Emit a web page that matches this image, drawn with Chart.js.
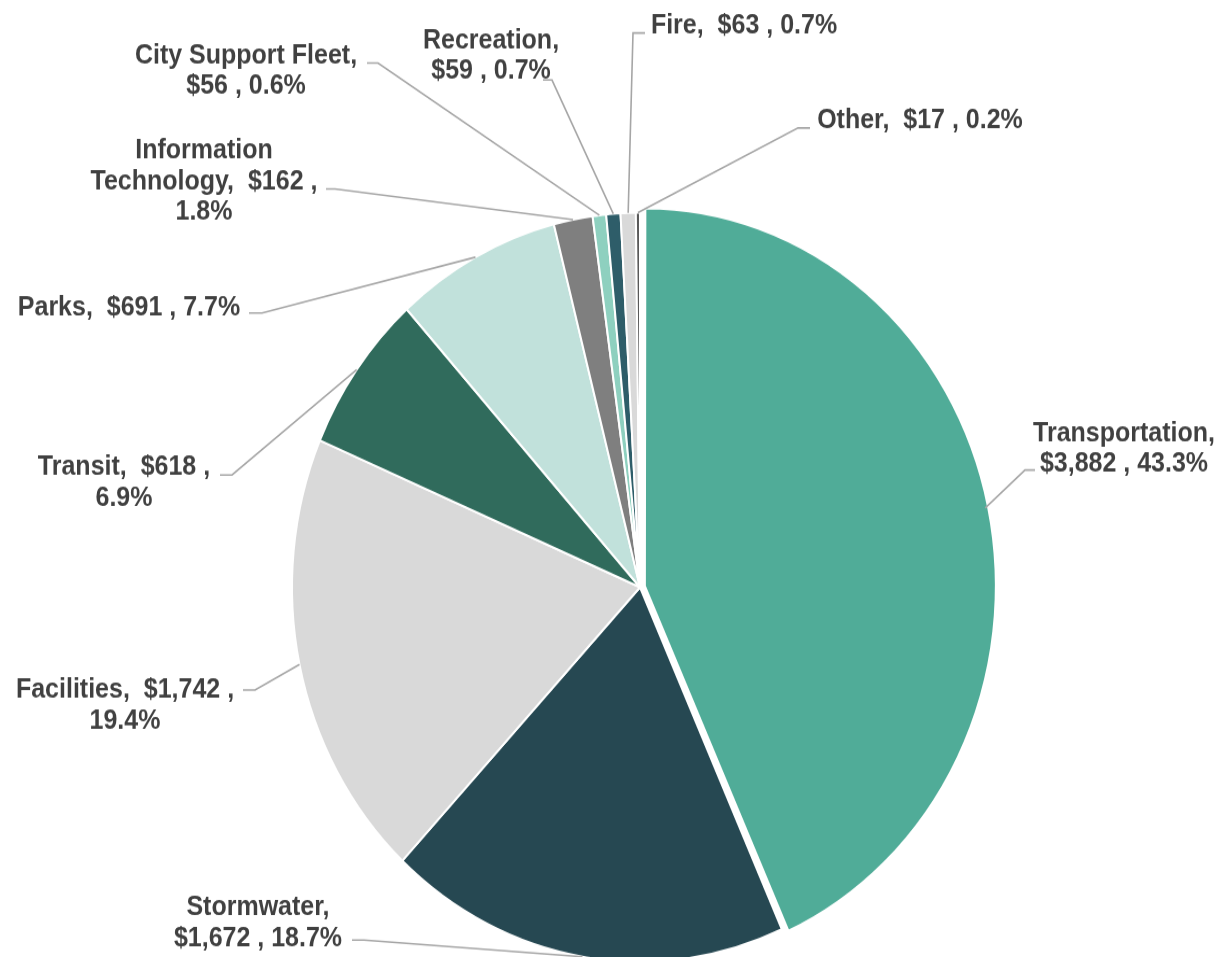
<!DOCTYPE html>
<html>
<head>
<meta charset="utf-8">
<script src="https://cdn.jsdelivr.net/npm/chart.js@4/dist/chart.umd.min.js"></script>
<style>
  html { overflow: hidden; }
  html, body { margin: 0; padding: 0; background: #fff; }
  body { height: 957px; }
  #wrap { width: 1218px; height: 889px; transform: scaleY(1.0765); transform-origin: 0 0; }
</style>
</head>
<body>
<div id="wrap"><canvas id="capitalChart" width="1218" height="889"></canvas></div>
<script>
// slices, clockwise from 12 o'clock
const categories = ['Transportation', 'Stormwater', 'Facilities', 'Transit', 'Parks',
  'Information Technology', 'City Support Fleet', 'Recreation', 'Fire', 'Other'];
const values = [3882, 1672, 1742, 618, 691, 162, 56, 59, 63, 17];
const colors = ['#50AC98', '#264852', '#D9D9D9', '#306B5C', '#C1E1DB',
  '#7F7F7F', '#8ED0BF', '#2E5D69', '#D9D9D9', '#595959'];

// label placement (picture coords): text centre x, first baseline, wrap width,
// elbow of the leader line and where it meets the text
const labelLayout = [
  { cx: 1124, y: 441, w: 205, ex: 1025, ey: 470, tx: 1035, ty: 470 },
  { cx: 258, y: 915, w: 205, ex: 364, ey: 940, tx: 352, ty: 940 },
  { cx: 125, y: 698, w: 250, ex: 255, ey: 690, tx: 243, ty: 690 },
  { cx: 124, y: 475, w: 205, ex: 232, ey: 475, tx: 220, ty: 475 },
  { cx: 129, y: 315, w: 270, ex: 262, ey: 313, tx: 249, ty: 313 },
  { cx: 204, y: 158, w: 250, ex: 335, ey: 189, tx: 326, ty: 189 },
  { cx: 246, y: 63, w: 250, ex: 378, ey: 63, tx: 367, ty: 63 },
  { cx: 491, y: 48, w: 155, ex: 552, ey: 80, tx: 543, ty: 80 },
  { cx: 744, y: 33, w: 270, ex: 633, ey: 33, tx: 645, ty: 33 },
  { cx: 920, y: 128, w: 270, ex: 798, ey: 128, tx: 810, ty: 128 }
];

const S = 957 / 889;      // vertical stretch of the original picture
const LINE_H = 31;
const total = values.reduce((a, b) => a + b, 0);

function labelText(i) {
  const pct = (values[i] / total * 100).toFixed(1);
  return categories[i] + ',  $' + values[i].toLocaleString('en-US') + ' , ' + pct + '%';
}

// greedy word wrap like the spreadsheet does
function wrap(ctx, text, maxW) {
  const tokens = text.match(/\S+\s*/g);
  const lines = [];
  let cur = '';
  tokens.forEach(t => {
    const test = cur + t;
    if (cur && ctx.measureText(test.trimEnd()).width > maxW) {
      lines.push(cur.trimEnd());
      cur = t;
    } else {
      cur = test;
    }
  });
  if (cur) lines.push(cur.trimEnd());
  return lines;
}

const outsideLabels = {
  id: 'outsideLabels',
  afterDraw(chart) {
    const ctx = chart.ctx;
    const arcs = chart.getDatasetMeta(0).data;
    ctx.save();
    ctx.font = 'bold 25px "Liberation Sans", Arial, sans-serif';
    ctx.textAlign = 'center';
    ctx.textBaseline = 'alphabetic';
    arcs.forEach((arc, i) => {
      const p = labelLayout[i];
      const mid = (arc.startAngle + arc.endAngle) / 2;
      const shift = (arc.options.offset || 0) / 4;
      const r = arc.outerRadius + shift;
      // leader line
      ctx.strokeStyle = '#A6A6A6';
      ctx.lineWidth = 1.6;
      ctx.beginPath();
      ctx.moveTo(arc.x + Math.cos(mid) * r, arc.y + Math.sin(mid) * r);
      ctx.lineTo(p.ex, p.ey / S);
      ctx.lineTo(p.tx, p.ty / S);
      ctx.stroke();
      // text
      ctx.fillStyle = '#404040';
      wrap(ctx, labelText(i), p.w).forEach((line, k) => {
        ctx.fillText(line, p.cx, (p.y + k * LINE_H) / S);
      });
    });
    ctx.restore();
  }
};

const ctx = document.getElementById('capitalChart').getContext('2d');
new Chart(ctx, {
  type: 'pie',
  data: {
    labels: categories,
    datasets: [{
      data: values,
      backgroundColor: colors,
      borderColor: '#ffffff',
      borderWidth: 2,
      offset: values.map((v, i) => i === 0 ? 20 : 0)
    }]
  },
  options: {
    responsive: false,
    animation: false,
    radius: 348,
    layout: { padding: { left: 62, top: 202, right: 0, bottom: 0 } },
    plugins: {
      legend: { display: false },
      tooltip: { enabled: false }
    }
  },
  plugins: [outsideLabels]
});
</script>
</body>
</html>
